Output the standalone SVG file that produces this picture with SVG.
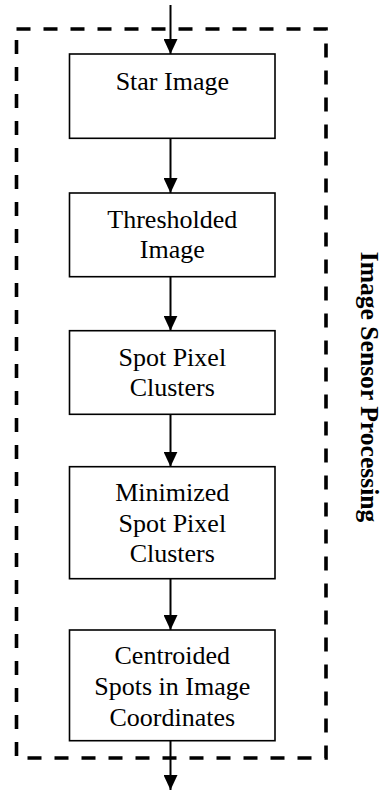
<svg xmlns="http://www.w3.org/2000/svg" width="383" height="790" viewBox="0 0 383 790">
  <style>
    .box { fill: #ffffff; stroke: #000000; stroke-width: 1.6; }
    .frame { fill: none; stroke: #000000; stroke-width: 3.6; stroke-dasharray: 14 13; }
    .link { stroke: #000000; stroke-width: 2; fill: none; }
    .label { font-family: "Liberation Serif", "Times New Roman", serif; font-size: 26px; fill: #000000; text-anchor: middle; }
    .title { font-family: "Liberation Serif", "Times New Roman", serif; font-size: 25.6px; font-weight: bold; fill: #000000; text-anchor: middle; }
  </style>
  <defs>
    <marker id="arrow" viewBox="0 0 15 14" refX="15" refY="7" markerWidth="15" markerHeight="14" markerUnits="userSpaceOnUse" orient="auto">
      <path d="M0,0 L15,7 L0,14 Z" fill="#000000"/>
    </marker>
  </defs>

  <rect width="383" height="790" fill="#ffffff"/>

  <!-- processing boundary -->
  <g id="boundary">
    <rect class="frame" x="16.5" y="29" width="309.5" height="729"/>
    <text class="title" transform="translate(360.5,387) rotate(90)">Image Sensor Processing</text>
  </g>

  <!-- connectors -->
  <g id="connectors">
    <line class="link" x1="170.5" y1="5" x2="170.5" y2="54" marker-end="url(#arrow)"/>
    <line class="link" x1="170.5" y1="138.3" x2="170.5" y2="193" marker-end="url(#arrow)"/>
    <line class="link" x1="170.5" y1="276.7" x2="170.5" y2="330.7" marker-end="url(#arrow)"/>
    <line class="link" x1="170.5" y1="414.3" x2="170.5" y2="466.7" marker-end="url(#arrow)"/>
    <line class="link" x1="170.5" y1="578.7" x2="170.5" y2="630" marker-end="url(#arrow)"/>
    <line class="link" x1="170.5" y1="740.7" x2="170.5" y2="790" marker-end="url(#arrow)"/>
  </g>

  <g id="star-image">
    <rect class="box" x="69.5" y="54" width="205.5" height="84.3"/>
    <text class="label" x="172.3" y="90">Star Image</text>
  </g>

  <g id="thresholded-image">
    <rect class="box" x="69.5" y="193" width="205.5" height="83.7"/>
    <text class="label" x="172.3" y="228">Thresholded</text>
    <text class="label" x="172.3" y="257.5">Image</text>
  </g>

  <g id="spot-pixel-clusters">
    <rect class="box" x="69.5" y="330.7" width="205.5" height="83.6"/>
    <text class="label" x="172.3" y="366">Spot Pixel</text>
    <text class="label" x="172.3" y="396">Clusters</text>
  </g>

  <g id="minimized-clusters">
    <rect class="box" x="69.5" y="466.7" width="205.5" height="112"/>
    <text class="label" x="172.3" y="501">Minimized</text>
    <text class="label" x="172.3" y="531.5">Spot Pixel</text>
    <text class="label" x="172.3" y="562">Clusters</text>
  </g>

  <g id="centroided-spots">
    <rect class="box" x="69.5" y="630" width="205.5" height="110.7"/>
    <text class="label" x="172.3" y="664">Centroided</text>
    <text class="label" x="172.3" y="695">Spots in Image</text>
    <text class="label" x="172.3" y="726">Coordinates</text>
  </g>
</svg>
